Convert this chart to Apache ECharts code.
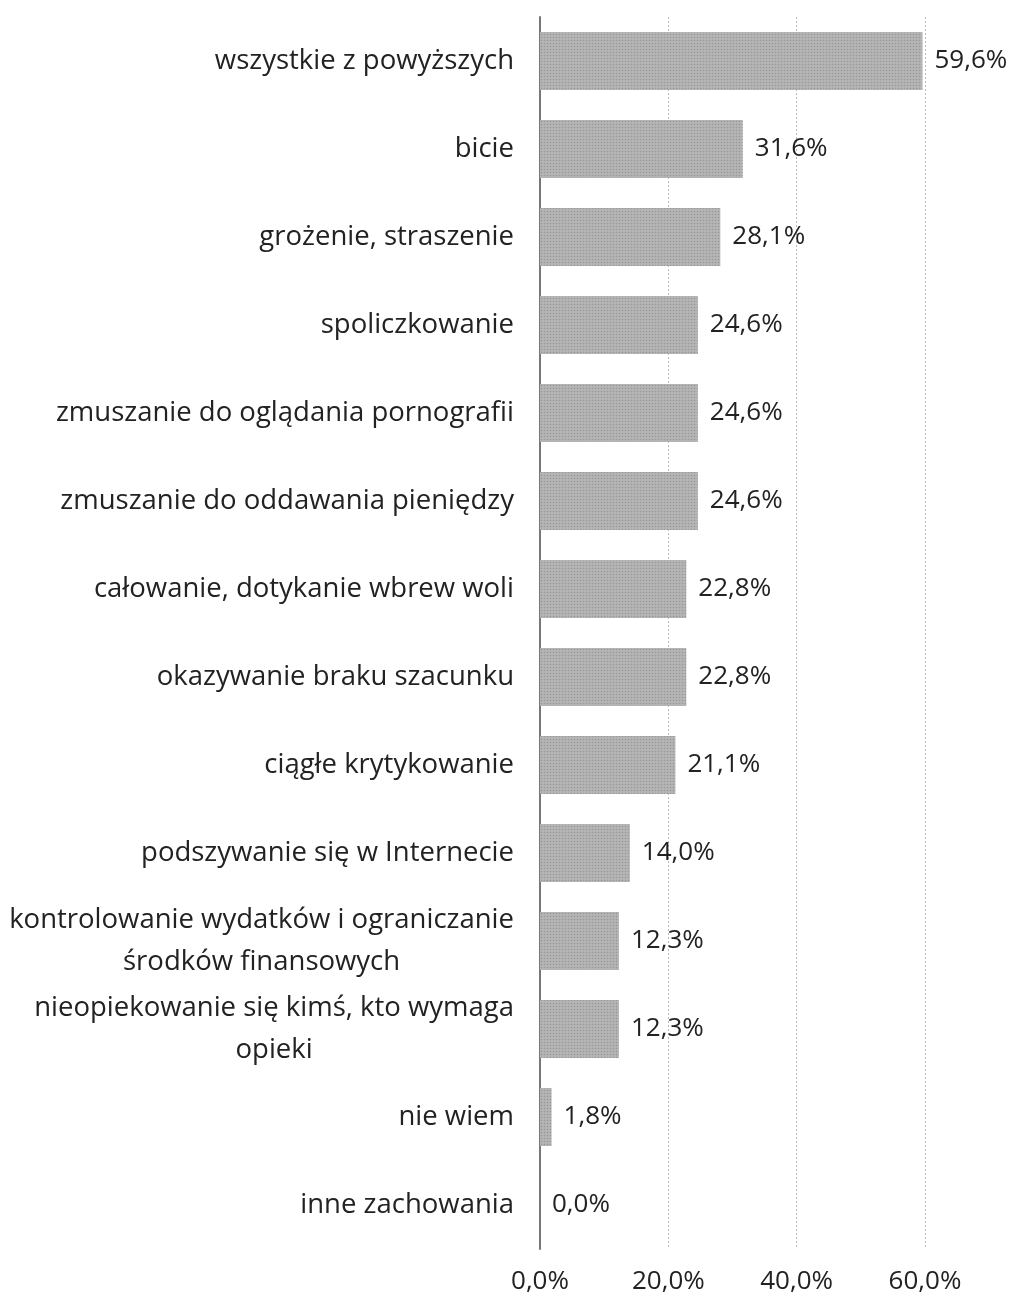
<!DOCTYPE html>
<html>
<head>
    <meta charset="utf-8">
    <title>Zachowania</title>
    <script src="https://cdn.jsdelivr.net/npm/echarts@6/dist/echarts.min.js"></script>
    <style>
        body { margin: 0; background: #fff; }
    </style>
</head>
<body>
    <div id="main" style="width: 1025px;height: 1301px;"></div>
    <script type="text/javascript">
        // kategorie od góry do dołu
        var categories = [
            'wszystkie z powyższych',
            'bicie',
            'grożenie, straszenie',
            'spoliczkowanie',
            'zmuszanie do oglądania pornografii',
            'zmuszanie do oddawania pieniędzy',
            'całowanie, dotykanie wbrew woli',
            'okazywanie braku szacunku',
            'ciągłe krytykowanie',
            'podszywanie się w Internecie',
            'kontrolowanie wydatków i ograniczanie\nśrodków finansowych',
            'nieopiekowanie się kimś, kto wymaga\nopieki',
            'nie wiem',
            'inne zachowania'
        ];
        var values = [59.6, 31.6, 28.1, 24.6, 24.6, 24.6, 22.8, 22.8, 21.1, 14.0, 12.3, 12.3, 1.8, 0.0];
        var xTicks = [0, 20, 40, 60];

        var font = '"Open Sans", sans-serif';
        var myChart = echarts.init(document.getElementById('main'));

        function pct(v) {
            return v.toFixed(1).replace('.', ',') + '%';
        }

        var option = {
            animation: false,
            backgroundColor: '#fff',
            grid: {
                left: 540,
                right: 100,
                top: 17,
                bottom: 52
            },
            xAxis: {
                type: 'value',
                min: xTicks[0],
                max: xTicks[xTicks.length - 1],
                interval: 20,
                axisLine: { show: false },
                axisTick: { show: false },
                splitLine: {
                    lineStyle: { color: '#b8b8b8', type: [2, 2], width: 1 }
                },
                axisLabel: {
                    margin: 20,
                    fontFamily: font,
                    fontSize: 26,
                    color: '#222',
                    formatter: pct
                }
            },
            yAxis: {
                type: 'category',
                inverse: true,
                data: categories,
                axisTick: { show: false },
                axisLine: { lineStyle: { color: '#777', width: 2 } },
                axisLabel: {
                    margin: 26,
                    fontFamily: font,
                    fontSize: 27.5,
                    color: '#222',
                    lineHeight: 42,
                    formatter: function (v) {
                        return v.split('\n').map(function (s) { return '{c|' + s + '}'; }).join('\n');
                    },
                    rich: {
                        c: { align: 'center', fontFamily: font, fontSize: 27.5, color: '#222', lineHeight: 42 }
                    }
                }
            },
            series: [{
                type: 'bar',
                data: values,
                barWidth: 58,
                itemStyle: {
                    color: '#b5b5b5',
                    decal: {
                        symbol: 'circle',
                        symbolSize: 0.5,
                        color: 'rgba(120,120,120,0.5)',
                        dashArrayX: [3, 0],
                        dashArrayY: [3, 0],
                        rotation: 0
                    }
                },
                label: {
                    show: true,
                    position: 'right',
                    distance: 12,
                    fontFamily: font,
                    fontSize: 26,
                    color: '#222',
                    formatter: function (p) { return pct(p.value); }
                }
            }]
        };

        myChart.setOption(option);
    </script>
</body>
</html>
